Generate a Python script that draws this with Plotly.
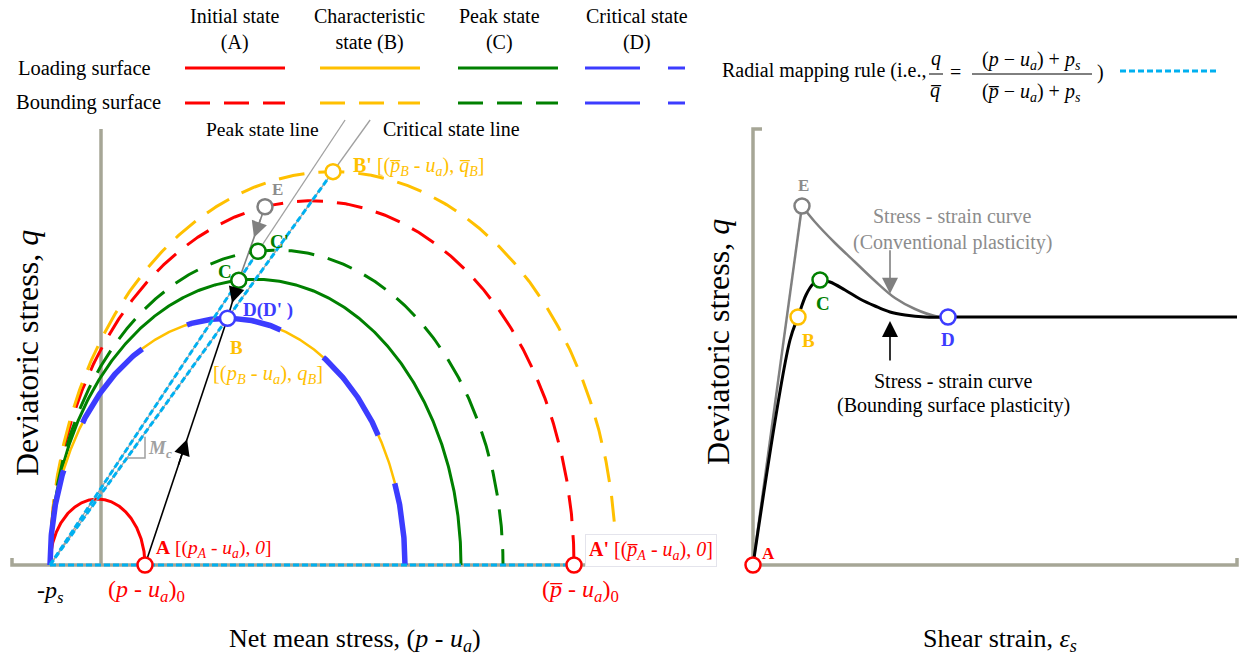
import numpy as np
import plotly.graph_objects as go

W, H = 1239, 660
FONT = "Liberation Serif, Times New Roman, serif"

# ---------------- data: left panel (net mean stress vs deviatoric stress) ----------------
p_s = 51.0                 # -p_s intercept
csl_slope = 1.39           # critical state line slope measured from -p_s (also surface aspect)
psl_slope = 1.508          # peak state line slope measured from -p_s
line_q_top = 445.0         # drawn length of the CSL / PSL
loading_states = ["A", "B/D", "C"]
loading_p_end = [44.0, 304.0, 360.0]       # right intercept of each loading surface
bounding_states = ["A", "B", "C"]
bounding_p_end = [473.0, 515.0, 402.0]     # right intercept of each bounding surface
p_E = 164.0                                # point E on initial bounding surface
p_axis = [-89.0, 531.0]
q_axis_top = 436.0
mc_p = 26.0
mc_run = 18.0

# ---------------- data: right panel (shear strain vs deviatoric stress) ----------------
eps_rise = [0.0, 0.37, 0.45, 0.53, 0.60, 0.67]
q_rise = [0, 225, 248, 270, 281, 285]
eps_soft = [0.67, 0.77, 0.92, 1.07, 1.22, 1.37, 1.52, 1.72, 1.95]
q_soft = [285, 283, 275, 266, 259, 253, 250, 248, 248]
eps_steady = [1.95, 4.84]
q_steady = [248, 248]
eps_conv = [0.0, 0.49, 0.62, 0.82, 1.02, 1.22, 1.42, 1.62, 1.82, 1.95]
q_conv = [0, 359, 343, 322, 303, 284, 267, 256, 249, 248]
pt_names = ["A", "B", "C", "D", "E"]
pt_eps = [0.0, 0.45, 0.67, 1.95, 0.49]
pt_q = [0, 248, 285, 248, 359]
eps_axis_end = 4.84

RED = "#FF0000"
ORANGE = "#FFC000"
GREEN = "#008000"
BLUE = "#3C3CFF"
LBLUE = "#00B0F0"
AXIS = "#A6A696"
GREY = "#808080"
TGREY = "#8C8C8C"

fig = go.Figure()


def add_line(x, y, color, width=3, dash=None, xaxis="x", shape="linear"):
    fig.add_trace(go.Scatter(x=list(x), y=list(y), mode="lines", xaxis=xaxis, yaxis="y",
                             line=dict(color=color, width=width, dash=dash, shape=shape),
                             hoverinfo="skip", showlegend=False))


def surface(p_end):
    a = (p_end + p_s) / 2.0
    c = p_end - a
    th = np.linspace(np.pi, 0, 500)
    return c + a * np.cos(th), csl_slope * a * np.sin(th)


def on_ray(slope, p_end):
    a = (p_end + p_s) / 2.0
    k = (slope / csl_slope) ** 2
    t = 2 * a / (1 + k)
    return -p_s + t, slope * t


def on_surface(p_end, p):
    a = (p_end + p_s) / 2.0
    c = p_end - a
    return csl_slope * a * np.sqrt(1 - ((p - c) / a) ** 2)


# ---------------- left axes ----------------
add_line([p_axis[0], p_axis[0], p_axis[1], p_axis[1]], [7, 0, 0, 7], AXIS, 3.5)
add_line([0, 0], [0, q_axis_top], AXIS, 3.5)

# ---------------- surfaces ----------------
DASH = "26px,14px"
bcol = {"A": RED, "B": ORANGE, "C": GREEN}
for st, pe in zip(bounding_states, bounding_p_end):
    x, y = surface(pe)
    add_line(x, y, bcol[st], 3, DASH)
lcol = {"A": RED, "B/D": ORANGE, "C": GREEN}
order = [2, 0, 1]
for i in order:
    st, pe = loading_states[i], loading_p_end[i]
    x, y = surface(pe)
    add_line(x, y, lcol[st], 3 if st != "B/D" else 2.5)
    if st == "B/D":
        add_line(x, y, BLUE, 5.5, "96px,51px")

# ---------------- CSL / PSL and radial mapping ----------------
add_line([-p_s, -p_s + line_q_top / psl_slope], [0, line_q_top], "#A0A0A0", 1.3)
add_line([-p_s, -p_s + line_q_top / csl_slope], [0, line_q_top], "#A0A0A0", 1.3)

pD = (loading_p_end[1] - p_s) / 2.0
qD = csl_slope * (loading_p_end[1] + p_s) / 2.0
pBb = (bounding_p_end[1] - p_s) / 2.0
qBb = csl_slope * (bounding_p_end[1] + p_s) / 2.0
pC, qC = on_ray(psl_slope, loading_p_end[2])
pCb, qCb = on_ray(psl_slope, bounding_p_end[2])
qE = on_surface(bounding_p_end[0], p_E)
pA, pAb = loading_p_end[0], bounding_p_end[0]

RD = "6px,3px"
add_line([-p_s, pAb], [0, 0], LBLUE, 3, RD)
add_line([-p_s, pBb], [0, qBb], LBLUE, 3, RD)
add_line([-p_s, pCb], [0, qCb], LBLUE, 3, RD)

# slope triangle M_c
q1 = csl_slope * (mc_p + p_s)
add_line([mc_p, mc_p + mc_run, mc_p + mc_run], [q1, q1, q1 + 0.85 * csl_slope * mc_run], "#A0A0A0", 1.5)

# stress paths
add_line([pA, pD], [0, qD], "black", 1.6)
add_line([p_E, pC], [qE, qC], GREY, 1.6)
add_line([pC, pD], [qC, qD], "black", 1.6)


def arrow(x0, y0, x1, y1, f_tail, f_tip, color, xref="x"):
    fig.add_annotation(x=x0 + f_tip * (x1 - x0), y=y0 + f_tip * (y1 - y0),
                       ax=x0 + f_tail * (x1 - x0), ay=y0 + f_tail * (y1 - y0),
                       xref=xref, yref="y", axref=xref, ayref="y", text="", showarrow=True,
                       arrowhead=2, arrowsize=2.0, arrowwidth=1.6, arrowcolor=color)


arrow(pA, 0, pD, qD, 0.40, 0.51, "black")
arrow(p_E, qE, pC, qC, 0.15, 0.42, GREY)
arrow(pC, qC, pD, qD, 0.20, 0.60, "black")

# markers (left)
for (x, y, c) in [(pA, 0, RED), (pAb, 0, RED), (pBb, qBb, ORANGE), (p_E, qE, GREY),
                  (pCb, qCb, GREEN), (pC, qC, GREEN), (pD, qD, BLUE)]:
    fig.add_trace(go.Scatter(x=[x], y=[y], mode="markers", xaxis="x", yaxis="y",
                             marker=dict(size=15, color="white", symbol="circle",
                                         line=dict(width=2.5, color=c)),
                             hoverinfo="skip", showlegend=False))

# ---------------- right panel ----------------
add_line([eps_axis_end, eps_axis_end, 0, 0, 0.09], [7, 0, 0, q_axis_top, q_axis_top], AXIS, 3.5, xaxis="x2")
add_line(eps_conv[:2], q_conv[:2], GREY, 2.5, xaxis="x2")
add_line(eps_conv[1:], q_conv[1:], GREY, 2.5, xaxis="x2", shape="spline")
add_line(eps_rise, q_rise, "black", 3, xaxis="x2", shape="spline")
add_line(eps_soft, q_soft, "black", 3, xaxis="x2", shape="spline")
add_line(eps_steady, q_steady, "black", 3, xaxis="x2")
pcol = {"A": RED, "B": ORANGE, "C": GREEN, "D": BLUE, "E": GREY}
for n, e, q in zip(pt_names, pt_eps, pt_q):
    fig.add_trace(go.Scatter(x=[e], y=[q], mode="markers", xaxis="x2", yaxis="y",
                             marker=dict(size=15, color="white", symbol="circle",
                                         line=dict(width=2.5, color=pcol[n])),
                             hoverinfo="skip", showlegend=False))

arr_eps = 1.37
q_conv_at = float(np.interp(arr_eps, eps_conv[1:], q_conv[1:]))
q_bs_at = float(np.interp(arr_eps, eps_soft, q_soft))
fig.add_annotation(x=arr_eps, y=q_conv_at, ax=arr_eps, ay=q_conv_at + 45, xref="x2", yref="y",
                   axref="x2", ayref="y", text="", showarrow=True, arrowhead=2, arrowsize=2.0,
                   arrowwidth=1.6, arrowcolor=GREY)
fig.add_annotation(x=arr_eps, y=q_bs_at - 9, ax=arr_eps, ay=q_bs_at - 50, xref="x2", yref="y",
                   axref="x2", ayref="y", text="", showarrow=True, arrowhead=2, arrowsize=2.0,
                   arrowwidth=1.6, arrowcolor="black")


# ---------------- text ----------------
def T(px, py, text, size=20, color="black", xa="center", ya="middle", **kw):
    fig.add_annotation(x=px / W, y=1 - py / H, xref="paper", yref="paper", text=text,
                       showarrow=False, font=dict(family=FONT, size=size, color=color),
                       xanchor=xa, yanchor=ya, **kw)


def L(xref, x, y, text, dx, dy, size=19, color="black", xa="center"):
    fig.add_annotation(x=x, y=y, xref=xref, yref="y", text=text, showarrow=False,
                       xshift=dx, yshift=-dy, xanchor=xa, yanchor="middle",
                       font=dict(family=FONT, size=size, color=color))


OV = "\u0305"
# header / legend
T(235, 30, "Initial state<br>(A)")
T(369, 30, "Characteristic<br>state (B)")
T(499, 30, "Peak state<br>(C)")
T(637, 30, "Critical state<br>(D)")
T(16, 68, "Loading surface", size=20.5, xa="left")
T(14, 103, "Bounding surface", size=20.5, xa="left")
cols_x = [185, 320, 458, 585]
cols_c = [RED, ORANGE, GREEN, BLUE]
for i, (x0, c) in enumerate(zip(cols_x, cols_c)):
    for row_y, dash in [(68, None if i < 3 else "55px,28px"), (103, "25px,14px" if i < 3 else "55px,28px")]:
        fig.add_shape(type="line", xref="paper", yref="paper", x0=x0 / W, x1=(x0 + 100) / W,
                      y0=1 - row_y / H, y1=1 - row_y / H, line=dict(color=c, width=3, dash=dash))

# radial mapping rule formula
T(720, 71, "Radial mapping rule (i.e., ", xa="left")
T(936, 59, "<i>q</i>")
T(936, 90, "<i>q" + OV + "</i>")
fig.add_shape(type="line", xref="paper", yref="paper", x0=929 / W, x1=943 / W,
              y0=1 - 74 / H, y1=1 - 74 / H, line=dict(color="black", width=1))
T(956, 72, "=")
T(1031, 60, "(<i>p</i> \u2212 <i>u<sub>a</sub></i>) + <i>p<sub>s</sub></i>")
fig.add_shape(type="line", xref="paper", yref="paper", x0=972 / W, x1=1092 / W,
              y0=1 - 74 / H, y1=1 - 74 / H, line=dict(color="black", width=1))
T(1031, 93, "(<i>p" + OV + "</i> \u2212 <i>u<sub>a</sub></i>) + <i>p<sub>s</sub></i>")
T(1100, 72, ")")
fig.add_shape(type="line", xref="paper", yref="paper", x0=1120 / W, x1=1218 / W,
              y0=1 - 71 / H, y1=1 - 71 / H, line=dict(color=LBLUE, width=3, dash="6px,3px"))

# left panel labels
T(262, 129, "Peak state line", size=19.5)
T(451, 129, "Critical state line", size=20)
L("x", p_E, qE, "<b>E</b>", 12, -17, 17, TGREY)
L("x", pCb, qCb, "<b>C'</b>", 21, -10, 19, GREEN)
L("x", pC, qC, "<b>C</b>", -14, -9, 19, GREEN)
L("x", pD, qD, "<b>D(D' )</b>", 40, -8, 19, BLUE)
L("x", pD, qD, "<b>B</b>", 9, 29, 19, ORANGE)
L("x", pD, qD, "[(<i>p<sub>B</sub></i> - <i>u<sub>a</sub></i>), <i>q<sub>B</sub></i>]", 40, 56, 20.5, ORANGE)
L("x", pBb, qBb, "<b>B'</b> [(<i>p" + OV + "<sub>B</sub></i> - <i>u<sub>a</sub></i>), <i>q" + OV + "<sub>B</sub></i>]",
  18, -5, 20, ORANGE, xa="left")
L("x", pA, 0, "<b>A</b> [(<i>p<sub>A</sub></i> - <i>u<sub>a</sub></i>), <i>0</i>]", 9, -16, 19.5, RED, xa="left")
fig.add_annotation(x=pAb, y=0, xref="x", yref="y", xshift=11, yshift=15, xanchor="left", yanchor="middle",
                   text="<b>A'</b> [(<i>p" + OV + "<sub>A</sub></i> - <i>u<sub>a</sub></i>), <i>0</i>]",
                   showarrow=False, bgcolor="white", bordercolor="#E4E4EC", borderwidth=1, borderpad=3,
                   font=dict(family=FONT, size=20, color=RED))
T(160, 449, "<b><i>M<sub>c</sub></i></b>", size=19, color="#A0A0A0")
T(50, 592, "-<i>p<sub>s</sub></i>", size=24)
T(146, 591, "(<i>p</i> - <i>u<sub>a</sub></i>)<sub>0</sub>", size=24, color=RED)
T(580, 591, "(<i>p" + OV + "</i> - <i>u<sub>a</sub></i>)<sub>0</sub>", size=24, color=RED)

# right panel labels
rx = dict(zip(pt_names, pt_eps))
ry = dict(zip(pt_names, pt_q))
L("x2", rx["E"], ry["E"], "<b>E</b>", 1, -21, 17, TGREY)
L("x2", rx["C"], ry["C"], "<b>C</b>", 3, 23, 19, GREEN)
L("x2", rx["B"], ry["B"], "<b>B</b>", 10, 23, 19, ORANGE)
L("x2", rx["D"], ry["D"], "<b>D</b>", 0, 22, 19, BLUE)
L("x2", rx["A"], ry["A"], "<b>A</b>", 15, -12, 17, RED)
T(952, 216, "Stress - strain curve", color=TGREY)
T(952, 242, "(Conventional plasticity)", color=TGREY)
T(953, 381, "Stress - strain curve")
T(953, 405, "(Bounding surface plasticity)")

# axis titles
T(27, 353, "Deviatoric stress, <i>q</i>", size=32, textangle=-90)
T(718, 342, "Deviatoric stress, <i>q</i>", size=32, textangle=-90)
T(355, 640, "Net mean stress, (<i>p</i> - <i>u<sub>a</sub></i>)", size=26)
T(1000, 640, "Shear strain, <i>\u03b5<sub>s</sub></i>", size=26)

fig.update_layout(
    width=W, height=H, margin=dict(l=0, r=0, t=0, b=0),
    paper_bgcolor="white", plot_bgcolor="white", showlegend=False,
    xaxis=dict(range=[-101, 1138], visible=False, fixedrange=True),
    xaxis2=dict(range=[-7.53, 4.86], visible=False, overlaying="x", anchor="y", fixedrange=True),
    yaxis=dict(range=[-95, 565], visible=False, fixedrange=True),
)
fig.write_html("out.html")
